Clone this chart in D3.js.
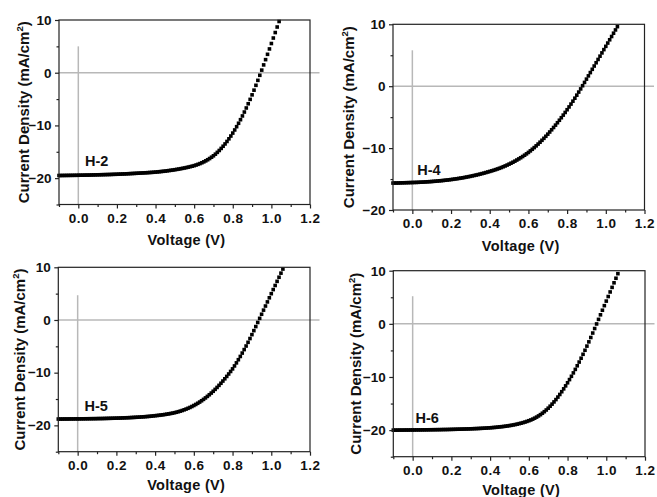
<!DOCTYPE html>
<html><head><meta charset="utf-8">
<script src="https://cdn.jsdelivr.net/npm/d3@7"></script>
<style>
html,body{margin:0;padding:0;background:#fff;}
svg{display:block;}
text{font-family:"Liberation Sans",Arial,sans-serif;font-weight:bold;fill:#111;}
</style></head>
<body>
<svg id="chart" width="657" height="497"></svg>
<script>
// ---------------- data ----------------
const voltage = [-0.10,-0.09,-0.08,-0.07,-0.06,-0.05,-0.04,-0.03,-0.02,-0.01,
0.00,0.01,0.02,0.03,0.04,0.05,0.06,0.07,0.08,0.09,
0.10,0.11,0.12,0.13,0.14,0.15,0.16,0.17,0.18,0.19,
0.20,0.21,0.22,0.23,0.24,0.25,0.26,0.27,0.28,0.29,
0.30,0.31,0.32,0.33,0.34,0.35,0.36,0.37,0.38,0.39,
0.40,0.41,0.42,0.43,0.44,0.45,0.46,0.47,0.48,0.49,
0.50,0.51,0.52,0.53,0.54,0.55,0.56,0.57,0.58,0.59,
0.60,0.61,0.62,0.63,0.64,0.65,0.66,0.67,0.68,0.69,
0.70,0.71,0.72,0.73,0.74,0.75,0.76,0.77,0.78,0.79,
0.80,0.81,0.82,0.83,0.84,0.85,0.86,0.87,0.88,0.89,
0.90,0.91,0.92,0.93,0.94,0.95,0.96,0.97,0.98,0.99,
1.00,1.01,1.02,1.03,1.04,1.05,1.06];

const jH2 = [-19.50,-19.50,-19.49,-19.49,-19.48,-19.48,-19.47,-19.47,-19.46,-19.46,
-19.45,-19.44,-19.44,-19.43,-19.42,-19.42,-19.41,-19.40,-19.39,-19.38,
-19.37,-19.36,-19.35,-19.34,-19.33,-19.32,-19.31,-19.30,-19.28,-19.27,
-19.26,-19.24,-19.23,-19.21,-19.20,-19.18,-19.16,-19.14,-19.12,-19.10,
-19.08,-19.06,-19.04,-19.02,-19.00,-18.98,-18.96,-18.93,-18.91,-18.88,
-18.85,-18.82,-18.78,-18.74,-18.70,-18.66,-18.61,-18.56,-18.51,-18.46,
-18.40,-18.34,-18.28,-18.21,-18.14,-18.07,-17.99,-17.91,-17.82,-17.73,
-17.63,-17.51,-17.38,-17.24,-17.08,-16.91,-16.72,-16.51,-16.28,-16.03,
-15.76,-15.45,-15.11,-14.75,-14.36,-13.95,-13.51,-13.04,-12.54,-12.01,
-11.45,-10.86,-10.24,-9.59,-8.91,-8.20,-7.46,-6.69,-5.89,-5.06,
-4.20,-3.31,-2.39,-1.45,-0.49,0.49,1.48,2.48,3.49,4.51,
5.54,6.58,7.62,8.67,9.72];

const jH4 = [-15.65,-15.64,-15.64,-15.63,-15.62,-15.61,-15.60,-15.59,-15.58,-15.57,
-15.56,-15.55,-15.54,-15.53,-15.51,-15.50,-15.48,-15.46,-15.44,-15.42,
-15.40,-15.37,-15.35,-15.32,-15.29,-15.26,-15.23,-15.19,-15.16,-15.12,
-15.08,-15.04,-14.99,-14.95,-14.90,-14.85,-14.80,-14.74,-14.68,-14.62,
-14.56,-14.49,-14.42,-14.35,-14.28,-14.20,-14.12,-14.04,-13.95,-13.86,
-13.77,-13.68,-13.58,-13.48,-13.37,-13.26,-13.14,-13.01,-12.88,-12.74,
-12.59,-12.44,-12.28,-12.11,-11.93,-11.75,-11.56,-11.36,-11.15,-10.93,
-10.70,-10.45,-10.19,-9.92,-9.64,-9.35,-9.05,-8.74,-8.42,-8.09,
-7.75,-7.40,-7.04,-6.67,-6.29,-5.90,-5.50,-5.09,-4.67,-4.24,
-3.80,-3.35,-2.89,-2.42,-1.94,-1.45,-0.95,-0.44,0.08,0.61,
1.14,1.67,2.20,2.73,3.26,3.79,4.32,4.85,5.38,5.91,
6.44,6.97,7.50,8.03,8.56,9.09,9.62];

const jH5 = [-18.80,-18.80,-18.80,-18.79,-18.79,-18.79,-18.78,-18.78,-18.78,-18.77,
-18.77,-18.77,-18.76,-18.76,-18.75,-18.75,-18.74,-18.74,-18.73,-18.73,
-18.72,-18.71,-18.71,-18.70,-18.69,-18.68,-18.67,-18.66,-18.65,-18.64,
-18.63,-18.62,-18.61,-18.59,-18.58,-18.56,-18.55,-18.53,-18.51,-18.49,
-18.47,-18.45,-18.43,-18.40,-18.38,-18.35,-18.32,-18.29,-18.25,-18.21,
-18.17,-18.13,-18.09,-18.04,-17.99,-17.94,-17.88,-17.82,-17.75,-17.68,
-17.60,-17.51,-17.41,-17.30,-17.18,-17.05,-16.91,-16.76,-16.60,-16.42,
-16.23,-16.03,-15.81,-15.58,-15.33,-15.07,-14.79,-14.50,-14.19,-13.87,
-13.53,-13.17,-12.80,-12.41,-12.01,-11.59,-11.16,-10.71,-10.25,-9.77,
-9.28,-8.72,-8.14,-7.54,-6.92,-6.28,-5.62,-4.94,-4.24,-3.52,
-2.78,-2.02,-1.25,-0.47,0.31,1.09,1.87,2.65,3.43,4.21,
4.99,5.77,6.55,7.33,8.11,8.89,9.67];

const jH6 = [-20.00,-20.00,-20.00,-19.99,-19.99,-19.99,-19.98,-19.98,-19.98,-19.97,
-19.97,-19.97,-19.96,-19.96,-19.96,-19.95,-19.95,-19.94,-19.94,-19.93,
-19.93,-19.92,-19.92,-19.91,-19.91,-19.90,-19.89,-19.89,-19.88,-19.87,
-19.86,-19.85,-19.84,-19.83,-19.82,-19.81,-19.80,-19.79,-19.78,-19.77,
-19.75,-19.74,-19.72,-19.71,-19.69,-19.67,-19.65,-19.63,-19.61,-19.58,
-19.56,-19.53,-19.50,-19.47,-19.43,-19.39,-19.35,-19.31,-19.26,-19.21,
-19.15,-19.09,-19.02,-18.95,-18.87,-18.78,-18.69,-18.59,-18.48,-18.36,
-18.23,-18.09,-17.93,-17.75,-17.55,-17.33,-17.09,-16.82,-16.53,-16.21,
-15.87,-15.50,-15.11,-14.69,-14.25,-13.78,-13.29,-12.77,-12.23,-11.67,
-11.09,-10.49,-9.87,-9.23,-8.57,-7.89,-7.19,-6.47,-5.73,-4.97,
-4.19,-3.39,-2.57,-1.73,-0.88,-0.02,0.84,1.70,2.56,3.42,
4.28,5.14,6.00,6.86,7.72,8.58,9.44];

const sampleNames = ["H-2","H-4","H-5","H-6"];
const xDomain = [-0.1, 1.2];
const xMajorTicks = [0.0,0.2,0.4,0.6,0.8,1.0,1.2];
const xMinorTicks = [-0.1,0.1,0.3,0.5,0.7,0.9,1.1];
const yDomains = [[-25,10],[-20,10],[-25,10],[-25,10]];
const yMajorTicks = [[-20,-10,0,10],[-20,-10,0,10],[-20,-10,0,10],[-20,-10,0,10]];
const yMinorTicks = [[-25,-15,-5,5],[-15,-5,5],[-25,-15,-5,5],[-25,-15,-5,5]];
const vRefTop = [5, 5.8, 4.7, 5.2];   // upper end of the V=0 guide line (mA/cm2)
const xTitle = "Voltage (V)";
const yTitleMain = "Current Density (mA/cm";
const yTitleSup = "2";

// ---------------- layout ----------------
const series = [jH2, jH4, jH5, jH6];
const layout = [
  {left:59,   top:20,    right:310,   bottom:204.5, yTitleX:24,    xTitleY:245, lab:[0.035,-17.7]},
  {left:393,  top:24.3,  right:644.5, bottom:210,   yTitleX:349,   xTitleY:251, lab:[0.025,-14.3]},
  {left:58.3, top:267.3, right:310,   bottom:451.7, yTitleX:20,    xTitleY:490, lab:[0.035,-17.2]},
  {left:393.3,top:270.7, right:645,   bottom:456.7, yTitleX:356,   xTitleY:494.5, lab:[0.015,-18.6]}
];

const svg = d3.select("#chart");
const fmt = d3.format(".1f");

layout.forEach((L, k) => {
  const x = d3.scaleLinear().domain(xDomain).range([L.left, L.right]);
  const y = d3.scaleLinear().domain(yDomains[k]).range([L.bottom, L.top]);
  const g = svg.append("g");

  // guide lines
  g.append("line")
    .attr("x1", x(xDomain[0])).attr("x2", L.right + 9.5)
    .attr("y1", y(0)).attr("y2", y(0))
    .attr("stroke", "#b8b8b8").attr("stroke-width", 1.5);
  g.append("line")
    .attr("x1", x(0)).attr("x2", x(0))
    .attr("y1", y(yDomains[k][0])).attr("y2", y(vRefTop[k]))
    .attr("stroke", "#b8b8b8").attr("stroke-width", 1.5);

  // data markers
  const pts = series[k].map((j, i) => [voltage[i], j]);
  g.append("g").selectAll("rect").data(pts).join("rect")
    .attr("x", d => x(d[0]) - 1.8).attr("y", d => y(d[1]) - 1.8)
    .attr("width", 3.6).attr("height", 3.6)
    .attr("fill", "#000");

  // frame
  g.append("rect")
    .attr("x", L.left).attr("y", L.top)
    .attr("width", L.right - L.left).attr("height", L.bottom - L.top)
    .attr("fill", "none").attr("stroke", "#222").attr("stroke-width", 1.2);

  // axes
  const xa = g.append("g").attr("transform", `translate(0,${L.bottom})`)
    .call(d3.axisBottom(x).tickValues(xMajorTicks).tickSize(4).tickSizeOuter(0)
      .tickPadding(4.5).tickFormat(fmt));
  const xm = g.append("g").attr("transform", `translate(0,${L.bottom})`)
    .call(d3.axisBottom(x).tickValues(xMinorTicks).tickSize(2.5).tickSizeOuter(0).tickFormat(""));
  const ya = g.append("g").attr("transform", `translate(${L.left},0)`)
    .call(d3.axisLeft(y).tickValues(yMajorTicks[k]).tickSize(4).tickSizeOuter(0)
      .tickPadding(3.5).tickFormat(d3.format("d")));
  const ym = g.append("g").attr("transform", `translate(${L.left},0)`)
    .call(d3.axisLeft(y).tickValues(yMinorTicks[k]).tickSize(2.5).tickSizeOuter(0).tickFormat(""));
  [xa, xm, ya, ym].forEach(a => {
    a.select(".domain").remove();
    a.selectAll("line").attr("stroke", "#222").attr("stroke-width", 1.2);
    a.selectAll("text").attr("font-size", 13.5).attr("font-weight", "bold")
      .attr("font-family", '"Liberation Sans", Arial, sans-serif').attr("fill", "#111");
  });
  xa.selectAll("text").attr("letter-spacing", "0.5px");

  // axis titles
  g.append("text")
    .attr("x", (L.left + L.right) / 2 + 2).attr("y", L.xTitleY)
    .attr("text-anchor", "middle").attr("font-size", 14.5)
    .attr("letter-spacing", "0.3px")
    .text(xTitle);
  const yt = g.append("text")
    .attr("transform", `translate(${L.yTitleX},${(L.top + L.bottom) / 2}) rotate(-90)`)
    .attr("text-anchor", "middle").attr("dy", "0.35em").attr("font-size", 15);
  yt.append("tspan").text(yTitleMain);
  yt.append("tspan").attr("font-size", 9.5).attr("dy", -6.5).text(yTitleSup);
  yt.append("tspan").attr("dy", 6.5).text(")");

  // sample label
  g.append("text")
    .attr("x", x(L.lab[0])).attr("y", y(L.lab[1]))
    .attr("font-size", 14.5).text(sampleNames[k]);
});
</script>
</body></html>
